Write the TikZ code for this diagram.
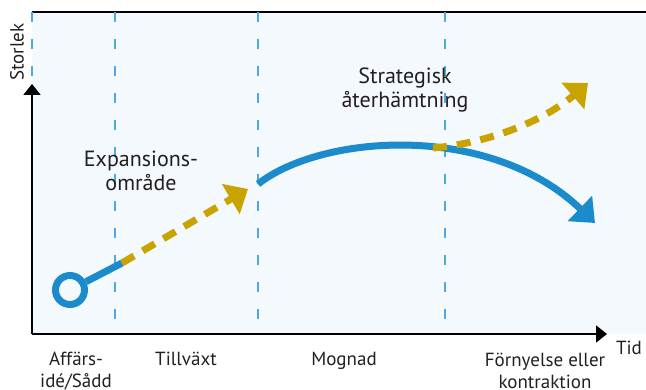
\documentclass[tikz,border=0pt]{standalone}
\usepackage{fontspec}
\setmainfont{PT Sans}
\usetikzlibrary{arrows.meta}

\definecolor{curveblue}{HTML}{1B8BCC}
\definecolor{trendgold}{HTML}{C9A400}
\definecolor{phaseblue}{HTML}{4DA9DE}
\definecolor{panelfill}{HTML}{F4F9FD}
\definecolor{labelgray}{HTML}{231F20}

\begin{document}
\begin{tikzpicture}[
    x=1pt, y=-1pt,         % pixel grid, y runs downwards
    axis/.style={
        draw=black,
        line width=2pt,
        -{Triangle[length=11pt, width=17pt]}
    },
    phase line/.style={
        draw=phaseblue,
        line width=1.3pt,
        dash pattern=on 10pt off 17pt
    },
    blue path/.style={
        draw=curveblue,
        line width=7pt
    },
    gold path/.style={
        draw=trendgold,
        line width=7pt,
        dash pattern=on 14pt off 10pt,
        -{Triangle[length=20pt, width=34pt]}
    },
    seed dot/.style={
        draw=curveblue,
        circle,
        line width=7pt,
        minimum size=29pt,
        inner sep=0pt
    },
    phase/.style={
        text=labelgray,
        align=center,
        font=\fontsize{19}{22}\selectfont
    },
    note/.style={
        text=labelgray,
        align=center,
        font=\fontsize{22}{24}\selectfont
    }
]
    \useasboundingbox (0,0) rectangle (646,390);

    % panel background
    \fill[panelfill] (32,12) rectangle (646,334);
    \draw[line width=1.5pt] (32,12) -- (646,12);

    % phase separators
    \draw[phase line] (32,12) -- (32,84);
    \foreach \px in {115,258,445}
        \draw[phase line] (\px,12) -- (\px,334);

    % axes
    \coordinate (origin) at (32,334);
    \coordinate (ytop) at (32,84);
    \coordinate (xend) at (607,334);
    \draw[axis] (origin) -- (ytop);
    \draw[axis] (origin) -- (xend);
    \node[phase, rotate=90] (size) at (17,52) {Storlek};
    \node[phase, anchor=base] (time) at (629,355) {Tid};

    % start point and growth
    \node[seed dot] (seed) at (70,290) {};
    \coordinate (grow) at (122,263);
    \coordinate (expand) at (248,189);
    \coordinate (mature) at (258,184);
    \coordinate (decline) at (595,223);
    \coordinate (renew) at (433,148);
    \coordinate (recover) at (588,83);

    \draw[blue path] (seed) -- (grow);
    \draw[gold path] (grow) -- (expand);
    \draw[blue path, -{Triangle[length=21pt, width=34pt]}]
        (mature) .. controls (322,134) and (490,122) .. (decline);
    \draw[gold path] (renew) .. controls (490,143) and (545,120) .. (recover);

    % curve notes
    \node[note] (expnote) at (141,171) {Expansions-\\område};
    \node[note] (stratnote) at (405,90) {Strategisk\\återhämtning};

    % phase names
    \node[phase] (seedphase) at (76,371) {Affärs-\\idé/Sådd};
    \node[phase, anchor=base] (growphase) at (186,366) {Tillväxt};
    \node[phase, anchor=base] (matphase) at (344,366) {Mognad};
    \node[phase] (renphase) at (545,371) {Förnyelse eller\\kontraktion};
\end{tikzpicture}
\end{document}
